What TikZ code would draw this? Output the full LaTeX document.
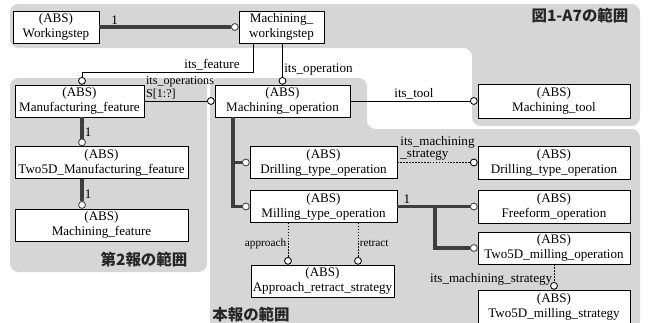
\documentclass[tikz,border=0pt]{standalone}
\usepackage{fontspec}
\setmainfont{Liberation Serif}
\newfontfamily\jpfont{Noto Sans CJK JP}
\usetikzlibrary{positioning,arrows.meta}
\definecolor{areagray}{RGB}{214,214,214}
\definecolor{linedark}{RGB}{62,62,62}

\begin{document}
\begin{tikzpicture}[x=0.025cm, y=-0.025cm,
      every node/.style={font=\fontsize{9.3}{10.5}\selectfont},
      ent/.style={draw, fill=white, align=center, inner sep=1pt, minimum height=0.8cm},
      rel/.style={line width=0.6pt, -{Circle[fill=white, length=5.5pt]}},
      opt/.style={rel, dash pattern=on 1.2pt off 0.9pt},
      sub/.style={line width=2.2pt, draw=linedark, -{Circle[fill=white, line width=0.6pt, length=5.5pt]}},
      area/.style={fill=areagray, rounded corners=6pt},
      arealabel/.style={font=\jpfont\bfseries\fontsize{11}{13}\selectfont, text=black!85},
      lbl/.style={inner sep=1pt},
      small/.style={inner sep=1pt, font=\fontsize{8}{9}\selectfont}
    ]
      \useasboundingbox (0,0) rectangle (649,322);

      % scope areas
      \fill[area] (10,4) -- (640,4) -- (640,126) -- (472,126) -- (472,48) -- (10,48) -- cycle;
      \fill[area] (10,78) rectangle (207,272);
      \fill[area] (210,78) -- (367,78) -- (367,129) -- (640,129) -- (640,330) -- (210,330) -- cycle;
      \node[arealabel] (a1) at (580,16) {図1-A7の範囲};
      \node[arealabel] (a2) at (144,260) {第2報の範囲};
      \node[arealabel] (a3) at (251,315) {本報の範囲};

      \coordinate (colL) at (82,0);
      \coordinate (colM) at (233,0);
      \coordinate (colR) at (435,0);
      \coordinate (colA) at (288,0);
      \coordinate (colT) at (358,0);
      \coordinate (bendF) at (253,72);

      % working step
      \node[ent, minimum width=2.15cm] (ws) at (56,27) {(ABS)\\Workingstep};
      \node[ent, minimum width=2.125cm] (mws) at (281.5,27) {Machining\_\\workingstep};

      % features (second report)
      \node[ent, minimum width=3.225cm] (mf) at (79.5,101) {(ABS)\\Manufacturing\_feature};
      \node[ent, minimum width=4.325cm] (t5mf) at (101.5,162.5) {(ABS)\\Two5D\_Manufacturing\_feature};
      \node[ent, minimum width=4.325cm, below=0.75cm of t5mf] (mfeat) {(ABS)\\Machining\_feature};

      % operations (this report)
      \node[ent, minimum width=3.375cm] (mop) at (282.5,101) {(ABS)\\Machining\_operation};
      \node[ent, minimum width=3.8cm, minimum height=0.85cm] (mtool) at (554,101) {(ABS)\\Machining\_tool};
      \node[ent, minimum width=3.675cm] (dtopL) at (323.5,162.5) {(ABS)\\Drilling\_type\_operation};
      \node[ent, minimum width=3.675cm] (mtop) at (323.5,206.5) {(ABS)\\Milling\_type\_operation};
      \node[ent, minimum width=3.575cm] (ars) at (322.5,281) {(ABS)\\Approach\_retract\_strategy};
      \node[ent, minimum width=3.8cm, minimum height=0.825cm] (dtopR) at (554,162.5) {(ABS)\\Drilling\_type\_operation};
      \node[ent, minimum width=3.8cm, minimum height=0.825cm] (ffop) at (554,206.5) {(ABS)\\Freeform\_operation};
      \node[ent, minimum width=3.8cm] (t5mop) at (554,248) {(ABS)\\Two5D\_milling\_operation};
      \node[ent, minimum width=3.8cm, minimum height=0.85cm] (t5ms) at (554,307) {(ABS)\\Two5D\_milling\_strategy};

      % subtype lines
      \draw[sub] (ws.east) -- node[lbl, pos=0.11, above] (n1) {1} (mws.west);
      \draw[sub] (mf.south -| colL) -- node[lbl, right] (n2) {1} (t5mf.north -| colL);
      \draw[sub] (t5mf.south -| colL) -- node[lbl, right] (n3) {1} (mfeat.north -| colL);
      \draw[sub] (mop.south -| colM) |- (dtopL.west);
      \draw[sub] (mop.south -| colM) |- (mtop.west);
      \draw[sub] (mtop.east) -- node[lbl, pos=0.12, above] (n4) {1} (ffop.west);
      \draw[sub] (mtop.east -| colR) |- (t5mop.west);

      % attributes
      \draw[rel] (mws.south -| bendF) |- node[lbl, pos=0.62, above] (lf) {its\_feature} (bendF -| colL) -- (mf.north -| colL);
      \draw[rel] (mws.south -| mop.north) -- node[lbl, pos=0.64, right] (lo) {its\_operation} (mop.north);
      \draw[rel] (mf.east) -- node[lbl, pos=0, anchor=south west, align=left, font=\fontsize{8.6}{9.6}\selectfont] (ls) {its\_operations\\S[1:?]} (mop.west);
      \draw[rel] (mop.east) -- node[lbl, above] (lt) {its\_tool} (mtool.west);
      \draw[opt] (dtopL.east) -- node[lbl, above, align=left] (lm) {its\_machining\\[-2pt]\_strategy} (dtopR.west);
      \draw[opt] (mtop.south -| colA) -- node[small, left] (la) {approach} (ars.north -| colA);
      \draw[opt] (mtop.south -| colT) -- node[small, right] (lr) {retract} (ars.north -| colT);
      \draw[opt] (t5mop.south) -- node[lbl, pos=0.6, left] (lm2) {its\_machining\_strategy} (t5ms.north);
    \end{tikzpicture}
\end{document}
